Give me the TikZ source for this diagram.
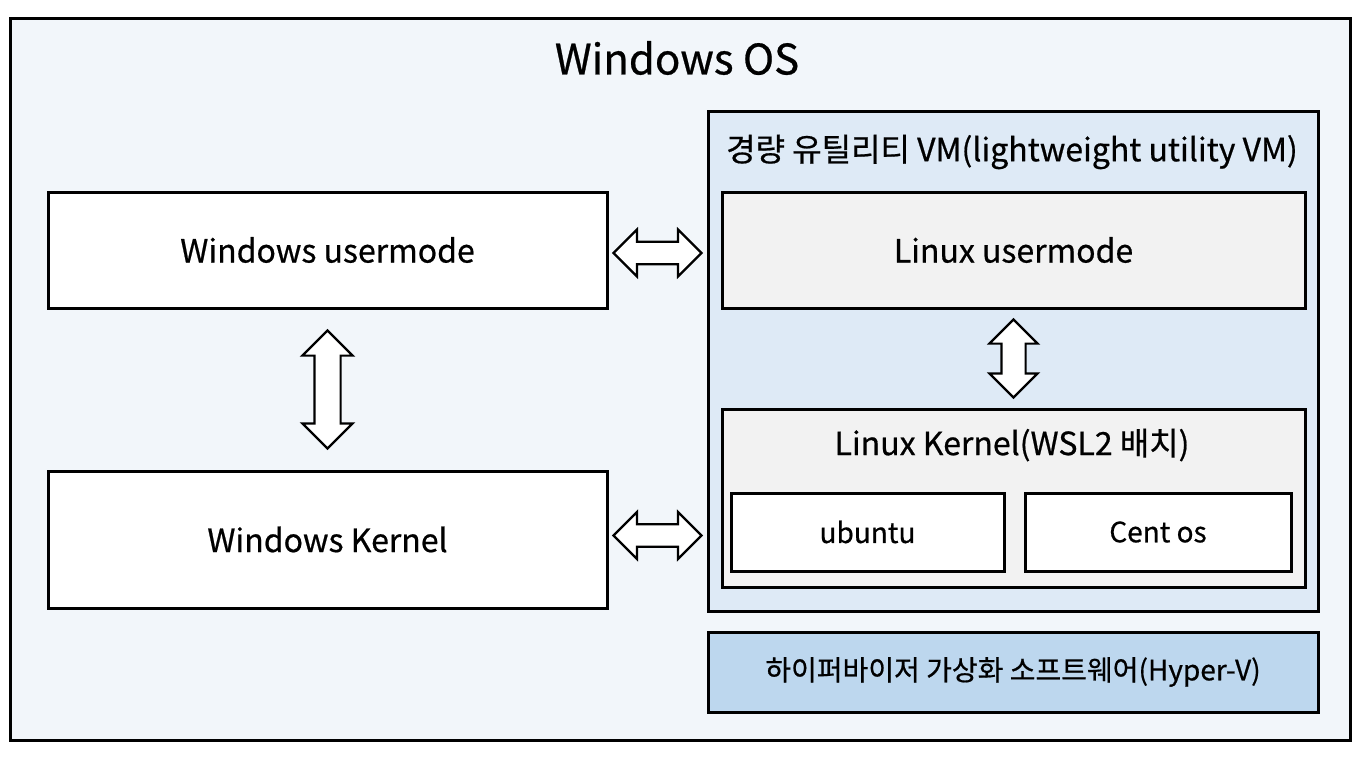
\documentclass[tikz,border=0pt]{standalone}
\usepackage{fontspec}
\setmainfont{Noto Sans CJK KR}[FakeBold=0.6]
\usetikzlibrary{shapes.arrows,calc}
\definecolor{osbg}{HTML}{F2F6FA}
\definecolor{vmbg}{HTML}{DEEAF6}
\definecolor{lxbg}{HTML}{F2F2F2}
\definecolor{hvbg}{HTML}{BDD7EE}
\tikzset{
  box/.style={draw=black, line width=3pt, inner sep=0pt, align=center},
  darrow/.style={double arrow, draw=black, fill=white, line width=2.2pt, inner sep=0pt,
     minimum width=46pt, double arrow head extend=12pt, double arrow tip angle=90},
  lbl/.style={inner sep=0pt},
  big/.style={font=\fontsize{32}{36}\selectfont},
  small/.style={font=\fontsize{28}{32}\selectfont}
}
\begin{document}
\begin{tikzpicture}[x=1pt,y=-1pt]
\useasboundingbox (0,0) rectangle (1358,756);
\node[box, fill=osbg, minimum width=1340pt, minimum height=722pt] (os) at (680,379) {};
\node[lbl, font=\fontsize{42}{46}\selectfont] (ostitle) at (677,58) {Windows OS};
\node[box, big, fill=white, minimum width=559pt, minimum height=116pt] (wu) at (327.5,250) {Windows usermode};
\node[box, big, fill=white, minimum width=559pt, minimum height=137pt] (wk) at (327.5,539.5) {Windows Kernel};
\node[box, fill=vmbg, minimum width=610pt, minimum height=500pt] (vm) at (1013,361) {};
\node[lbl, big] (vmtitle) at (1012,152) {경량 유틸리티 VM(lightweight utility VM)};
\node[box, big, fill=lxbg, minimum width=583pt, minimum height=116pt] (lu) at (1013.5,250) {Linux usermode};
\node[box, fill=lxbg, minimum width=583pt, minimum height=178pt] (lk) at (1013.5,498) {};
\node[lbl, big] (lktitle) at (1012,445) {Linux Kernel(WSL2 배치)};
\node[box, small, fill=white, minimum width=273pt, minimum height=78pt] (ub) at (867.5,532) {ubuntu};
\node[box, small, fill=white, minimum width=266pt, minimum height=78pt] (ce) at (1158,532) {Cent os};
\node[box, small, fill=hvbg, minimum width=610pt, minimum height=80pt] (hv) at (1013,672) {하이퍼바이저 가상화 소프트웨어(Hyper-V)};
% arrows
\node[darrow, minimum height=88pt, minimum width=47pt, inner ysep=10pt] (a1) at ($(wu.east)!0.5!(vm.west |- wu.east)+(0,3)$) {};
\node[darrow, minimum height=88pt, minimum width=47pt, inner ysep=10pt] (a2) at ($(wk.east)!0.5!(vm.west |- wk.east)+(0,-4)$) {};
\node[darrow, rotate=90, minimum height=118pt, minimum width=47pt, inner ysep=12pt] (a3) at ($(wu.south)!0.5!(wk.north)$) {};
\node[darrow, rotate=90, minimum height=78pt, minimum width=45pt, inner ysep=11pt] (a4) at ($(lu.south)!0.5!(lk.north)$) {};
\end{tikzpicture}
\end{document}
